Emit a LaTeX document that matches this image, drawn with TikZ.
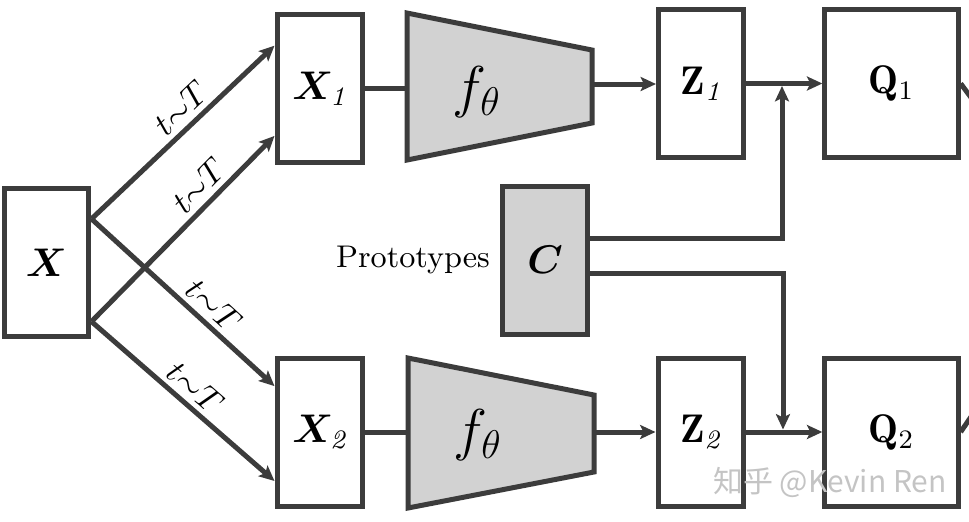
\documentclass[tikz,border=0pt]{standalone}
\usepackage{bm}
\usepackage{fontspec}
\newfontfamily\cjk{Noto Sans CJK SC}
\usetikzlibrary{calc,arrows.meta}
\definecolor{linegray}{HTML}{3C3C3C}
\definecolor{fillgray}{HTML}{D2D2D2}
\definecolor{markgray}{HTML}{C4C4C4}
\tikzset{
  box/.style={draw=linegray, line width=1.5pt, minimum width=25.5pt, minimum height=44.4pt, inner sep=0pt, font=\large},
  qbox/.style={box, minimum width=40pt},
  conn/.style={draw=linegray, line width=1.5pt},
  arr/.style={conn, -{Stealth[length=4.6pt,width=4.2pt,inset=1pt]}},
  lbl/.style={sloped, above, inner sep=1.5pt},
}
\begin{document}
\begin{tikzpicture}[x=0.3pt, y=-0.3pt]
		%%%%% START %%%%%
		\useasboundingbox (0,0) rectangle (969,521);
		
		\node[box] (X) at (46.5,262.5) {$\bm{X}$};
		\node[box] (X1) at (319.5,88.5) {$\bm{X}_{\mathit{1}}$};
		\node[box] (X2) at (319.5,432) {$\bm{X}_{\mathit{2}}$};
		
		\coordinate (xa) at ($(X.north east)!0.215!(X.south east)$);
		\coordinate (xb) at ($(X.north east)!0.886!(X.south east)$);
		\coordinate (x1a) at ($(X1.north west)!0.22!(X1.south west)$);
		\coordinate (x1b) at ($(X1.north west)!0.81!(X1.south west)$);
		\coordinate (x2a) at ($(X2.north west)!0.2!(X2.south west)$);
		\coordinate (x2b) at ($(X2.north west)!0.82!(X2.south west)$);
		
		\draw[arr] (xa) -- node[lbl, pos=0.56] {$t{\sim}T$} (x1a);
		\draw[arr] (xb) -- node[lbl, pos=0.66] {$t{\sim}T$} (x1b);
		\draw[arr] (xa) -- node[lbl, pos=0.6] {$t{\sim}T$} (x2a);
		\draw[arr] (xb) -- node[lbl, pos=0.5] {$t{\sim}T$} (x2b);
		
		\filldraw[conn, fill=fillgray] (407,13) -- (592,50) -- (592,123) -- (407,160) -- cycle;
		\node[font=\LARGE] (f1) at (477,92) {$f_\theta$};
		\coordinate (f1in) at (407,88.5);
		\coordinate (f1out) at (592,84);
		
		\filldraw[conn, fill=fillgray] (408,358) -- (594,395) -- (594,472) -- (408,508) -- cycle;
		\node[font=\LARGE] (f2) at (478,435) {$f_\theta$};
		\coordinate (f2in) at (408,432);
		\coordinate (f2out) at (594,432);
		
		\draw[conn] (X1) -- (f1in);
		\draw[conn] (X2) -- (f2in);
		
		\node[box] (Z1) at (701,83.5) {$\mathbf{Z}_{\mathit{1}}$};
		\node[box] (Z2) at (700.5,432) {$\mathbf{Z}_{\mathit{2}}$};
		\node[qbox] (Q1) at (891.5,83.5) {$\mathbf{Q}_{1}$};
		\node[qbox] (Q2) at (891.5,432) {$\mathbf{Q}_{2}$};
		
		\draw[arr] (f1out) -- (f1out -| Z1.west);
		\draw[arr] (f2out) -- (f2out -| Z2.west);
		\draw[arr] (Z1) -- (Q1);
		\draw[arr] (Z2) -- (Q2);
		
		\node[box, fill=fillgray] (C) at (545,260) {$\bm{C}$};
		\node[font=\fontsize{9.4pt}{11pt}\selectfont] (proto) at (413,260) {Prototypes};
		
		\coordinate (j1) at (782,86);
		\coordinate (j2) at (783,429.5);
		\draw[arr] ($(C.east)+(0,-22)$) -| (j1);
		\draw[arr] ($(C.east)+(0,13)$) -| (j2);
		
		\coordinate (q1out) at (978,107);
		\coordinate (q2out) at (978,406.5);
		\draw[conn] (Q1.east) -- (q1out);
		\draw[conn] (Q2.east) -- (q2out);
		
		\node[text=markgray, font=\cjk\fontsize{9pt}{10pt}\selectfont] (mark) at (830,482) {知乎 @Kevin Ren};
		
		%%%%% END %%%%%
	\end{tikzpicture}
\end{document}
